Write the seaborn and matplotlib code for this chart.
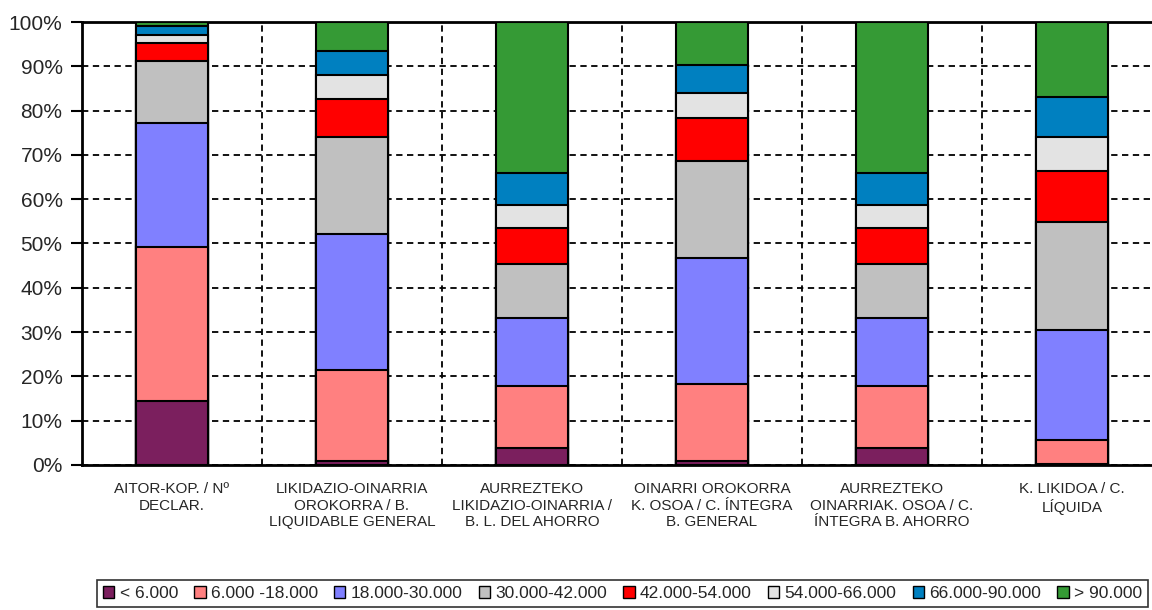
import matplotlib.pyplot as plt
import matplotlib.ticker as mticker
from matplotlib.patches import Patch
import numpy as np
import pandas as pd
import seaborn as sns

categories = [
    "AITOR-KOP. / Nº\nDECLAR.",
    "LIKIDAZIO-OINARRIA\nOROKORRA / B.\nLIQUIDABLE GENERAL",
    "AURREZTEKO\nLIKIDAZIO-OINARRIA /\nB. L. DEL AHORRO",
    "OINARRI OROKORRA\nK. OSOA / C. ÍNTEGRA\nB. GENERAL",
    "AURREZTEKO\nOINARRIAK. OSOA / C.\nÍNTEGRA B. AHORRO",
    "K. LIKIDOA / C.\nLÍQUIDA",
]
brackets = ["< 6.000", "6.000 -18.000", "18.000-30.000", "30.000-42.000",
            "42.000-54.000", "54.000-66.000", "66.000-90.000", "> 90.000"]

# shares (%) per bracket, one value per category
lt_6 = [14.5, 1.0, 3.8, 1.0, 3.8, 0.3]
b_6_18 = [34.8, 20.4, 14.0, 17.2, 14.0, 5.3]
b_18_30 = [27.9, 30.7, 15.3, 28.5, 15.3, 24.9]
b_30_42 = [14.0, 22.0, 12.2, 22.0, 12.2, 24.3]
b_42_54 = [4.1, 8.5, 8.1, 9.6, 8.1, 11.6]
b_54_66 = [1.8, 5.4, 5.4, 5.7, 5.4, 7.7]
b_66_90 = [1.9, 5.5, 7.2, 6.3, 7.2, 9.0]
gt_90 = [1.0, 6.5, 34.0, 9.7, 34.0, 16.9]

colors = ["#7B1F5E", "#FF8080", "#8080FF", "#C0C0C0",
          "#FF0000", "#E3E3E3", "#0080C0", "#359A35"]

series = [lt_6, b_6_18, b_18_30, b_30_42, b_42_54, b_54_66, b_66_90, gt_90]
df = pd.DataFrame(series, index=brackets, columns=categories).T
df = df.div(df.sum(axis=1), axis=0)
cum = df.cumsum(axis=1)

sns.set_style("white")
plt.rcParams["font.family"] = ["Liberation Sans", "DejaVu Sans"]

fig = plt.figure(figsize=(11.52, 6.10), dpi=100)
ax = fig.add_axes([82 / 1152, 145 / 610, 1080 / 1152, 443 / 610])

# draw cumulative totals from the top bracket down so lower ones overlay
for br, col in reversed(list(zip(brackets, colors))):
    d = pd.DataFrame({"cat": categories, "val": cum[br].values})
    sns.barplot(data=d, x="cat", y="val", color=col, width=0.395,
                edgecolor="black", linewidth=1.5, saturation=1,
                errorbar=None, ax=ax, zorder=3)

ax.set_ylim(0, 1)
ax.set_xlim(-0.5, 5.5)
ax.yaxis.set_major_locator(mticker.MultipleLocator(0.1))
ax.yaxis.set_major_formatter(mticker.PercentFormatter(1.0, decimals=0))
ax.xaxis.set_minor_locator(mticker.FixedLocator(np.arange(0.5, 6, 1)))
ax.grid(axis="y", which="major", color="black", linestyle=(0, (3.5, 2.5)),
        linewidth=1.3, zorder=1)
ax.grid(axis="x", which="minor", color="black", linestyle=(0, (3.5, 2.5)),
        linewidth=1.3, zorder=1)
ax.set_axisbelow(True)
for s in ["left", "top", "bottom"]:
    ax.spines[s].set_color("black")
    ax.spines[s].set_linewidth(2)
ax.spines["right"].set_visible(False)
ax.tick_params(axis="y", which="major", left=True, length=8, width=1.5,
               color="black", labelsize=15, pad=6)
ax.tick_params(axis="x", which="both", bottom=False, labelsize=11, pad=9)
ax.set_xticks(range(len(categories)))
ax.set_xticklabels(categories, linespacing=1.2)
ax.set_xlabel("")
ax.set_ylabel("")

handles = [Patch(facecolor=c, edgecolor="black", linewidth=1) for c in colors]
leg = fig.legend(handles, brackets, loc="lower left", ncol=8, mode="expand",
                 bbox_to_anchor=(97 / 1152, 3 / 610, 1051 / 1152, 26 / 610),
                 frameon=True, fancybox=False, fontsize=12.5,
                 handlelength=0.65, handleheight=0.65, handletextpad=0.3,
                 borderpad=0.35, borderaxespad=0)
leg.get_frame().set_edgecolor("black")
leg.get_frame().set_linewidth(1.2)

fig.savefig("out.png", dpi=100)
